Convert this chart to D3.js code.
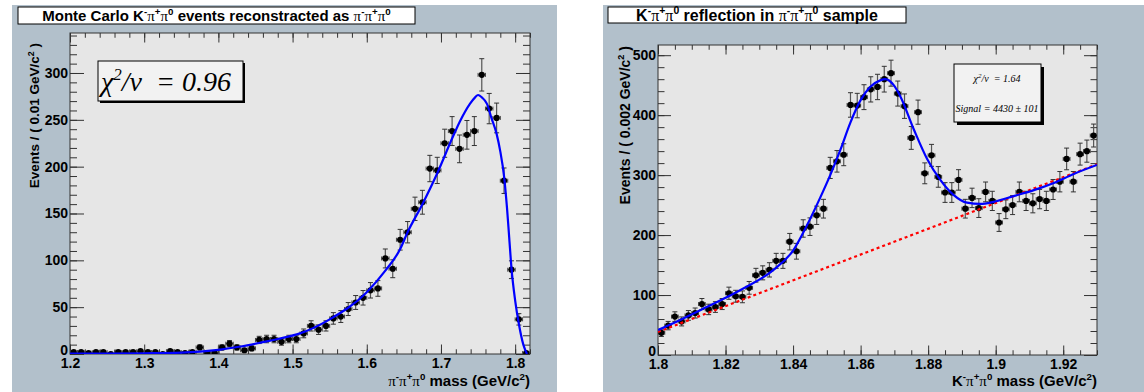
<!DOCTYPE html>
<html>
<head>
<meta charset="utf-8">
<script src="https://cdn.jsdelivr.net/npm/d3@7"></script>
<style>
  body { margin: 0; background: #fff; }
</style>
</head>
<body>
<div id="chart"></div>
<script>
// Left: Monte Carlo K-pi+pi0 events reconstructed as pi-pi+pi0, 0.01 GeV bins from 1.2
const leftBinStart = 1.2;
const leftBinWidth = 0.01;
const leftCounts = [2, 2, 1, 2, 2, 0, 2, 2, 2, 3, 2, 2, 0, 3, 2, 1, 2, 7, 1, 1,
  7, 11, 7, 4, 6, 15, 16, 16, 13, 16, 16, 22, 30, 26, 30, 38, 40, 48, 55, 60,
  68, 70, 102, 91, 122, 130, 155, 162, 198, 196, 225, 238, 219, 234, 238, 298, 262, 252, 185, 90,
  37, 1];
const leftFitMass = [1.20, 1.25, 1.30, 1.35, 1.40, 1.43, 1.456, 1.48, 1.51, 1.55, 1.60, 1.625, 1.645,
  1.655, 1.675, 1.695, 1.715, 1.726, 1.739, 1.746, 1.750, 1.755, 1.762, 1.768, 1.775, 1.780,
  1.785, 1.789, 1.792, 1.795, 1.800, 1.805, 1.811, 1.816];
const leftFitValue = [0.3, 0.5, 0.8, 1.5, 4.5, 8, 12, 16, 22, 37, 66, 89, 112,
  130, 160, 193, 230, 249, 267, 274, 276.5, 274, 267, 252, 235, 216,
  190, 156, 124, 92, 57, 32, 10, 0];
const leftXTicks = [1.2, 1.3, 1.4, 1.5, 1.6, 1.7, 1.8];
const leftYTicks = [0, 50, 100, 150, 200, 250, 300];

// Right: K-pi+pi0 reflection in the pi-pi+pi0 sample, 0.002 GeV bins from 1.8
const rightBinStart = 1.8;
const rightBinWidth = 0.002;
const rightCounts = [37, 49, 64, 56, 66, 70, 85, 76, 80, 85, 103, 98, 97, 112, 133, 137, 142, 157, 157, 189,
  173, 211, 214, 233, 244, 312, 323, 334, 417, 416, 430, 443, 447, 460, 470, 436, 415, 362, 405, 303,
  333, 297, 271, 271, 292, 244, 262, 245, 272, 257, 221, 243, 250, 272, 257, 253, 260, 257, 276, 289,
  327, 289, 335, 340, 366];
const rightFitMass = [1.800, 1.8045, 1.8144, 1.8243, 1.8342, 1.8401, 1.844, 1.848, 1.851, 1.854, 1.857,
  1.860, 1.8628, 1.8658, 1.8673, 1.8698, 1.8717, 1.8757, 1.8797, 1.8836, 1.8875, 1.8915, 1.8955,
  1.8994, 1.9053, 1.9113, 1.9172, 1.9231, 1.930];
const rightFitValue = [41.7, 53, 80, 108, 142, 175, 215, 262, 300, 342, 388,
  425, 447, 458, 460, 450, 432, 377, 327, 292, 267, 254, 252,
  255.5, 265, 275, 287, 302, 317];
const rightBkgMass = [1.80, 1.93];
const rightBkgValue = [38.5, 318];
const rightXTicks = [1.8, 1.82, 1.84, 1.86, 1.88, 1.9, 1.92];
const rightYTicks = [0, 100, 200, 300, 400, 500];

const W = 1144, H = 392;
const PANEL_BG = "#b2c0cb";
const SANS = '"Liberation Sans", Arial, sans-serif';
const SERIF = '"Liberation Serif", "Times New Roman", serif';

const svg = d3.select("#chart").append("svg")
  .attr("width", W).attr("height", H)
  .attr("font-family", SANS);

svg.append("rect").attr("width", W).attr("height", H).attr("fill", "#fff");
svg.append("rect").attr("x", 12).attr("y", 5).attr("width", 545).attr("height", H - 5).attr("fill", PANEL_BG);
svg.append("rect").attr("x", 603).attr("y", 5).attr("width", W - 603).attr("height", H - 5).attr("fill", PANEL_BG);

// text with superscripts and serif pi symbols
function richText(g, x, y, parts, size, anchor, rotate) {
  const t = g.append("text")
    .attr("x", x).attr("y", y)
    .attr("font-family", SANS)
    .attr("font-size", size)
    .attr("font-weight", "bold")
    .attr("text-anchor", anchor || "start");
  if (rotate) t.attr("transform", `rotate(-90,${x},${y})`);
  let shift = 0;
  parts.forEach(([s, kind]) => {
    const sup = kind === "sup";
    const target = sup ? -size * 0.4 : 0;
    const ts = t.append("tspan").attr("dy", target - shift).text(s);
    shift = target;
    if (sup) ts.attr("font-size", size * 0.65);
    if (kind === "pi") ts.attr("font-family", SERIF).attr("font-weight", "normal");
  });
  return t;
}

const kpipi = [["K", ""], ["-", "sup"], ["π", "pi"], ["+", "sup"], ["π", "pi"], ["0", "sup"]];
const pipipi = [["π", "pi"], ["-", "sup"], ["π", "pi"], ["+", "sup"], ["π", "pi"], ["0", "sup"]];

function drawPanel(p) {
  const x = d3.scaleLinear().domain(p.xDomain).range([p.left, p.right]);
  const y = d3.scaleLinear().domain(p.yDomain).range([p.bottom, p.top]);
  const g = svg.append("g");

  // frame
  g.append("rect")
    .attr("x", p.left).attr("y", p.top)
    .attr("width", p.right - p.left).attr("height", p.bottom - p.top)
    .attr("fill", "#e6e6e6");

  const clipId = "clip" + p.id;
  svg.append("clipPath").attr("id", clipId).append("rect")
    .attr("x", p.left).attr("y", p.top)
    .attr("width", p.right - p.left).attr("height", p.bottom - p.top);

  const styleAxis = a => {
    a.select(".domain").remove();
    a.attr("color", "#333").attr("font-family", SANS);
    a.selectAll("text")
      .attr("font-size", 14).attr("font-weight", "bold")
      .attr("fill", "#000");
  };

  const xMinor = d3.range(p.xDomain[0], p.xDomain[1] + 1e-9, p.xMinorStep);
  const yMinor = d3.range(p.yDomain[0], p.yDomain[1], p.yMinorStep);
  const fmt = d => String(+d.toFixed(3));

  // bottom / top
  g.append("g").attr("transform", `translate(0,${p.bottom})`)
    .call(d3.axisBottom(x).tickValues(p.xTicks).tickSize(-p.xTick).tickPadding(4).tickFormat(fmt))
    .call(styleAxis);
  g.append("g").attr("transform", `translate(0,${p.bottom})`)
    .call(d3.axisBottom(x).tickValues(xMinor).tickSize(-p.xTick / 2).tickFormat(""))
    .call(styleAxis);
  g.append("g").attr("transform", `translate(0,${p.top})`)
    .call(d3.axisTop(x).tickValues(p.xTicks).tickSize(-p.xTick).tickFormat(""))
    .call(styleAxis);
  g.append("g").attr("transform", `translate(0,${p.top})`)
    .call(d3.axisTop(x).tickValues(xMinor).tickSize(-p.xTick / 2).tickFormat(""))
    .call(styleAxis);

  // left / right
  g.append("g").attr("transform", `translate(${p.left},0)`)
    .call(d3.axisLeft(y).tickValues(p.yTicks).tickSize(-p.yTick).tickPadding(2).tickFormat(d3.format("d")))
    .call(styleAxis)
    .call(a => a.selectAll("text").filter(d => d === 0).attr("dy", "0.05em"));
  g.append("g").attr("transform", `translate(${p.left},0)`)
    .call(d3.axisLeft(y).tickValues(yMinor).tickSize(-p.yTick / 2).tickFormat(""))
    .call(styleAxis);
  g.append("g").attr("transform", `translate(${p.right},0)`)
    .call(d3.axisRight(y).tickValues(p.yTicks).tickSize(-p.yTick).tickFormat(""))
    .call(styleAxis);
  g.append("g").attr("transform", `translate(${p.right},0)`)
    .call(d3.axisRight(y).tickValues(yMinor).tickSize(-p.yTick / 2).tickFormat(""))
    .call(styleAxis);

  g.append("rect")
    .attr("x", p.left).attr("y", p.top)
    .attr("width", p.right - p.left).attr("height", p.bottom - p.top)
    .attr("fill", "none").attr("stroke", "#333").attr("stroke-width", 1);

  // data points with errors
  const pts = p.counts.map((c, k) => ({
    m: p.binStart + p.binWidth * (k + 0.5),
    c: c,
    e: Math.sqrt(c)
  }));
  const dg = g.append("g").attr("clip-path", `url(#${clipId})`);
  const hw = p.binWidth / 2;
  pts.forEach(d => {
    const cx = x(d.m), cy = y(d.c);
    if (d.e > 0) {
      const yl = y(d.c - d.e), yh = y(d.c + d.e);
      dg.append("line").attr("x1", cx).attr("x2", cx).attr("y1", yl).attr("y2", yh)
        .attr("stroke", "#555").attr("stroke-width", 1.2);
      [yl, yh].forEach(yy => dg.append("line")
        .attr("x1", cx - 2.5).attr("x2", cx + 2.5).attr("y1", yy).attr("y2", yy)
        .attr("stroke", "#333").attr("stroke-width", 1));
    }
    const xl = x(d.m - hw), xh = x(d.m + hw);
    dg.append("line").attr("x1", xl).attr("x2", xh).attr("y1", cy).attr("y2", cy)
      .attr("stroke", "#444").attr("stroke-width", 1);
    [xl, xh].forEach(xx => dg.append("line")
      .attr("x1", xx).attr("x2", xx).attr("y1", cy - 2).attr("y2", cy + 2)
      .attr("stroke", "#444").attr("stroke-width", 1));
  });
  dg.selectAll("circle.pt").data(pts).join("circle")
    .attr("class", "pt")
    .attr("cx", d => x(d.m)).attr("cy", d => y(d.c)).attr("r", 3.1)
    .attr("fill", "#000");

  // background (dotted) and total fit
  if (p.bkgMass) {
    const bk = p.bkgMass.map((m, i) => [m, p.bkgValue[i]]);
    dg.append("path").datum(bk)
      .attr("d", d3.line().x(d => x(d[0])).y(d => y(d[1])))
      .attr("fill", "none").attr("stroke", "#ff0000")
      .attr("stroke-width", 2.2).attr("stroke-dasharray", "3,3");
  }
  const fit = p.fitMass.map((m, i) => [m, p.fitValue[i]]);
  dg.append("path").datum(fit)
    .attr("d", d3.line().curve(d3.curveMonotoneX).x(d => x(d[0])).y(d => y(d[1])))
    .attr("fill", "none").attr("stroke", "#0000ff").attr("stroke-width", 2.2);

  // axis titles
  richText(svg, p.right, 386, p.xTitle, 15, "end");
  richText(svg, p.yTitleX, p.yTitleY, p.yTitle, p.yTitleSize, "end", true);

  // title box
  svg.append("rect")
    .attr("x", p.titleBox[0]).attr("y", p.titleBox[1])
    .attr("width", p.titleBox[2]).attr("height", p.titleBox[3])
    .attr("fill", "#fff").attr("stroke", "#000").attr("stroke-width", 1);
  richText(svg, p.titleBox[0] + p.titleBox[2] / 2, p.titleBox[1] + 13.5, p.title, p.titleSize, "middle");
}

drawPanel({
  id: "L",
  left: 70, right: 530, top: 33, bottom: 354,
  xDomain: [1.2, 1.82], yDomain: [0, 342.7],
  xTicks: leftXTicks, yTicks: leftYTicks,
  xMinorStep: 0.02, yMinorStep: 10, xTick: 9.5, yTick: 14,
  binStart: leftBinStart, binWidth: leftBinWidth, counts: leftCounts,
  fitMass: leftFitMass, fitValue: leftFitValue,
  xTitle: pipipi.concat([[" mass (GeV/c", ""], ["2", "sup"], [")", ""]]),
  yTitle: [["Events / ( 0.01 GeV/c", ""], ["2", "sup"], [" )", ""]],
  yTitleX: 39, yTitleY: 43, yTitleSize: 13.5,
  titleBox: [18, 7, 397, 17], titleSize: 15,
  title: [["Monte Carlo ", ""]].concat(kpipi, [[" events reconstracted as ", ""]], pipipi)
});

drawPanel({
  id: "R",
  left: 658, right: 1097, top: 45, bottom: 355,
  xDomain: [1.8, 1.93], yDomain: [0, 517],
  xTicks: rightXTicks, yTicks: rightYTicks,
  xMinorStep: 0.005, yMinorStep: 20, xTick: 9.5, yTick: 13,
  binStart: rightBinStart, binWidth: rightBinWidth, counts: rightCounts,
  fitMass: rightFitMass, fitValue: rightFitValue,
  bkgMass: rightBkgMass, bkgValue: rightBkgValue,
  xTitle: kpipi.concat([[" mass (GeV/c", ""], ["2", "sup"], [")", ""]]),
  yTitle: [["Events / ( 0.002 GeV/c", ""], ["2", "sup"], [" )", ""]],
  yTitleX: 630, yTitleY: 46, yTitleSize: 14,
  titleBox: [608, 7, 298, 16], titleSize: 16,
  title: kpipi.concat([[" reflection in ", ""]], pipipi, [[" sample", ""]])
});

// fit result boxes
function statBox(x0, y0, w, h, shadow) {
  svg.append("rect").attr("x", x0 + shadow).attr("y", y0 + shadow)
    .attr("width", w).attr("height", h).attr("fill", "#000");
  svg.append("rect").attr("x", x0).attr("y", y0)
    .attr("width", w).attr("height", h)
    .attr("fill", "#f2f2f2").attr("stroke", "#000").attr("stroke-width", 1);
}

statBox(98, 61, 145, 40, 2);
const chiL = svg.append("text").attr("x", 101).attr("y", 91)
  .attr("font-family", SERIF).attr("font-style", "italic").attr("font-size", 28);
chiL.append("tspan").text("χ");
chiL.append("tspan").attr("dy", -11).attr("font-size", 17).text("2");
chiL.append("tspan").attr("dy", 11).text("/ν\u00a0\u00a0=\u00a00.96");

statBox(954, 64, 87, 58, 3);
const chiR = svg.append("text").attr("x", 997).attr("y", 82)
  .attr("text-anchor", "middle")
  .attr("font-family", SERIF).attr("font-style", "italic").attr("font-size", 10);
chiR.append("tspan").text("χ");
chiR.append("tspan").attr("dy", -4).attr("font-size", 7).text("2");
chiR.append("tspan").attr("dy", 4).text("/ν\u00a0 = 1.64");
svg.append("text").attr("x", 997).attr("y", 112)
  .attr("text-anchor", "middle")
  .attr("font-family", SERIF).attr("font-style", "italic").attr("font-size", 10)
  .text("Signal = 4430 ± 101");
</script>
</body>
</html>
